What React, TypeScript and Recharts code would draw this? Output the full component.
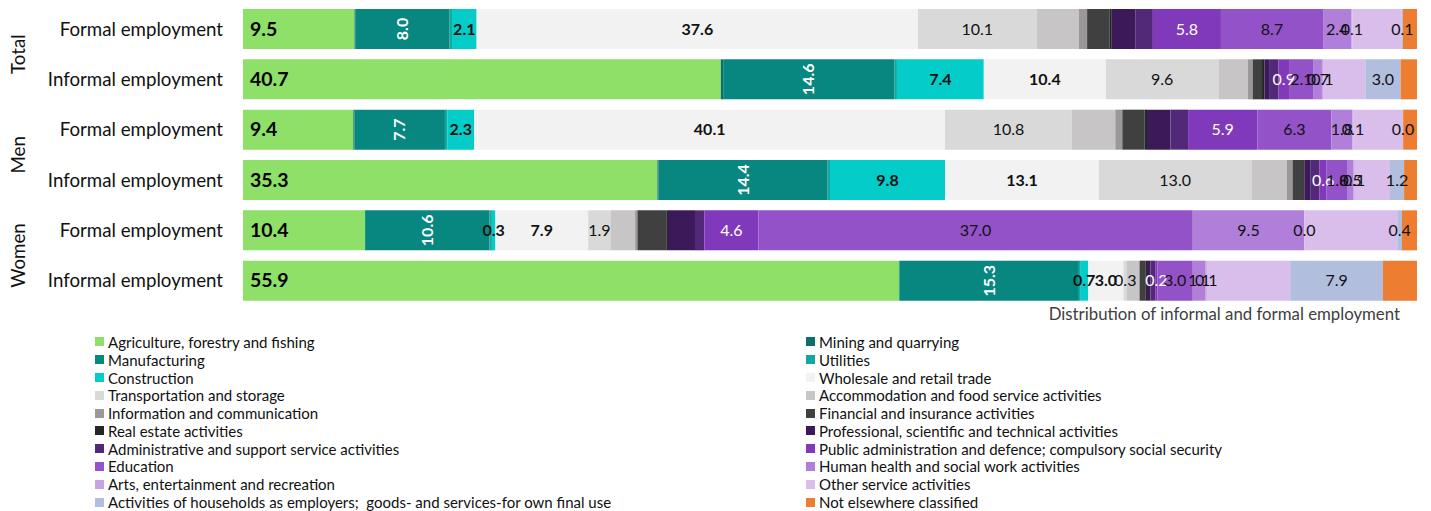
import { BarChart, Bar, XAxis, YAxis, LabelList, Label } from 'recharts';

const groups = ['Total', 'Men', 'Women'];
const employmentTypes = ['Formal employment', 'Informal employment'];

const sectors = [
  'Agriculture, forestry and fishing',
  'Mining and quarrying',
  'Manufacturing',
  'Utilities',
  'Construction',
  'Wholesale and retail trade',
  'Transportation and storage',
  'Accommodation and food service activities',
  'Information and communication',
  'Financial and insurance activities',
  'Real estate activities',
  'Professional, scientific and technical activities',
  'Administrative and support service activities',
  'Public administration and defence; compulsory social security',
  'Education',
  'Human health and social work activities',
  'Arts, entertainment and recreation',
  'Other service activities',
  'Activities of households as employers;  goods- and services-for own final use',
  'Not elsewhere classified'
];

const colors = [
  '#8EE069', '#0E6F6A', '#07877F', '#0FA9A2', '#04CCC8', '#F2F2F2', '#D9D9D9',
  '#C7C5C5', '#9C9898', '#404040', '#262626', '#3C1A5A', '#522879', '#7F39BA',
  '#9452C8', '#B07FDA', '#C8A2E4', '#D9BDEA', '#B1BEDD', '#ED7D31'
];

// label style per sector: none | lead | rot | bold | plain | white
const labelKinds = [
  'lead', 'none', 'rot', 'none', 'bold', 'bold', 'plain', 'none', 'none', 'none',
  'none', 'none', 'none', 'white', 'plain', 'plain', 'plain', 'none', 'plain', 'none'
];

// shares (%) per row, in sector order
const totalFormal = [9.5, 0.1, 8.0, 0.2, 2.1, 37.6, 10.1, 3.6, 0.7, 1.9, 0.2, 2.0, 1.5, 5.8, 8.7, 2.4, 0.1, 4.2, 0.1, 1.2];
const totalInformal = [40.7, 0.2, 14.6, 0.2, 7.4, 10.4, 9.6, 2.5, 0.4, 0.8, 0.2, 0.4, 0.8, 0.9, 2.1, 0.7, 0.1, 3.6, 3.0, 1.4];
const menFormal = [9.4, 0.1, 7.7, 0.2, 2.3, 40.1, 10.8, 3.7, 0.6, 1.9, 0.2, 2.0, 1.5, 5.9, 6.3, 1.8, 0.1, 4.2, 0.02, 1.2];
const menInformal = [35.3, 0.1, 14.4, 0.2, 9.8, 13.1, 13.0, 3.0, 0.5, 0.9, 0.1, 0.5, 0.8, 0.6, 1.8, 0.5, 0.1, 3.0, 1.2, 1.1];
const womenFormal = [10.4, 0.0, 10.6, 0.2, 0.3, 7.9, 1.9, 2.1, 0.2, 2.5, 0.1, 2.3, 0.8, 4.6, 37.0, 9.5, 0.02, 7.9, 0.4, 1.3];
const womenInformal = [55.9, 0.0, 15.3, 0.1, 0.7, 3.0, 0.3, 1.0, 0.1, 0.5, 0.1, 0.3, 0.4, 0.2, 3.0, 1.1, 0.1, 7.1, 7.9, 2.9];

const rowValues = [totalFormal, totalInformal, menFormal, menInformal, womenFormal, womenInformal];

const data = rowValues.map((vals, i) => {
  const row: Record<string, any> = {
    id: i,
    group: groups[Math.floor(i / 2)],
    type: employmentTypes[i % 2]
  };
  vals.forEach((v, j) => {
    row[`s${j}`] = v;
  });
  return row;
});

function RowTick(props: any) {
  const { x, y, payload } = props;
  const row = data[payload.value];
  return (
    <g>
      <text x={x} y={y} dy="0.35em" textAnchor="end" fontSize={18.7} fill="#111">
        {row.type}
      </text>
      {payload.value % 2 === 0 && (
        <text
          x={18}
          y={y + 25}
          dy="0.35em"
          textAnchor="middle"
          fontSize={18.7}
          fill="#111"
          transform={`rotate(-90, 18, ${y + 25})`}
        >
          {row.group}
        </text>
      )}
    </g>
  );
}

function makeLabel(kind: string) {
  return (props: any) => {
    const { x, y, width, height, value } = props;
    if (value == null) return null;
    const txt = Number(value).toFixed(1);
    const cx = x + width / 2;
    const cy = y + height / 2;
    if (kind === 'lead') {
      return (
        <text x={x + 7} y={cy} dy="0.35em" fontSize={19.5} fontWeight="bold" fill="#000">
          {txt}
        </text>
      );
    }
    if (kind === 'rot') {
      return (
        <text
          x={cx}
          y={cy}
          dy="0.35em"
          textAnchor="middle"
          fontSize={16}
          fontWeight="bold"
          fill="#fff"
          transform={`rotate(-90, ${cx}, ${cy})`}
        >
          {txt}
        </text>
      );
    }
    return (
      <text
        x={cx}
        y={cy}
        dy="0.35em"
        textAnchor="middle"
        fontSize={16}
        fontWeight={kind === 'bold' ? 'bold' : 'normal'}
        fill={kind === 'white' ? '#fff' : '#111'}
      >
        {txt}
      </text>
    );
  };
}

function SectorLegend() {
  return (
    <div
      style={{
        position: 'absolute',
        left: 95,
        top: 333,
        display: 'grid',
        gridTemplateColumns: '711px 620px',
        gridAutoRows: '17.8px',
        fontSize: 15,
        color: '#111'
      }}
    >
      {sectors.map((s, i) => (
        <div key={s} style={{ display: 'flex', alignItems: 'center', whiteSpace: 'pre' }}>
          <span
            style={{
              display: 'inline-block',
              width: 9,
              height: 9,
              background: colors[i],
              marginRight: 4
            }}
          />
          {s}
        </div>
      ))}
    </div>
  );
}

export default function App() {
  return (
    <div
      style={{
        position: 'absolute',
        left: 0,
        top: 0,
        width: 1431,
        height: 511,
        background: '#fff',
        fontFamily: 'Lato, sans-serif'
      }}
    >
      <BarChart
        width={1431}
        height={330}
        data={data}
        layout="vertical"
        margin={{ top: 4, right: 14, bottom: 0, left: 0 }}
        barSize={40}
      >
        <XAxis
          type="number"
          domain={[0, 100]}
          allowDataOverflow
          tick={false}
          axisLine={false}
          tickLine={false}
          height={24}
        >
          <Label
            content={(p: any) => {
              const vb = p.viewBox;
              return (
                <text x={vb.x + vb.width - 17} y={vb.y + 14} textAnchor="end" fontSize={16.8} fill="#404040">
                  Distribution of informal and formal employment
                </text>
              );
            }}
          />
        </XAxis>
        <YAxis
          type="category"
          dataKey="id"
          width={243}
          axisLine={false}
          tickLine={false}
          tickSize={0}
          tickMargin={20}
          tick={<RowTick />}
        />
        {sectors.map((s, i) => (
          <Bar
            key={s}
            dataKey={`s${i}`}
            name={s}
            stackId="a"
            fill={colors[i]}
            isAnimationActive={false}
          >
            {labelKinds[i] !== 'none' && (
              <LabelList dataKey={`s${i}`} content={makeLabel(labelKinds[i])} />
            )}
          </Bar>
        ))}
      </BarChart>
      <SectorLegend />
    </div>
  );
}
